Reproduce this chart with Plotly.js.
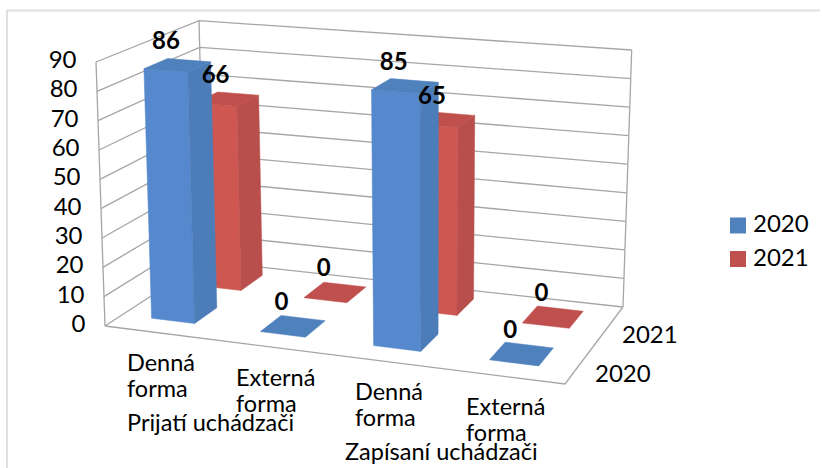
<!DOCTYPE html>
<html><head><meta charset="utf-8">
<script src="https://cdn.plot.ly/plotly-3.0.1.min.js"></script>
<style>html,body{margin:0;padding:0;background:#fff}#c{width:822px;height:468px}</style></head>
<body><div id="c"></div>
<script>
const categories = ["Denná forma","Externá forma","Denná forma","Externá forma"];
const groups = ["Prijatí uchádzači","Zapísaní uchádzači"];
const seriesNames = ["2020","2021"];
const values2020 = [86,0,85,0];
const values2021 = [66,0,65,0];
const valueTicks = [0,10,20,30,40,50,60,70,80,90];

const FONT = "Lato, Carlito, sans-serif";
const floorQ = [[105,326],[565,384],[623,307],[205,261]];
const topQ = [[96,62],[571.6,100],[631.7,50],[199,20.7]];
function homog(q){
  const [p0,p1,p2,p3]=q;
  const dx1=p1[0]-p2[0],dx2=p3[0]-p2[0],sx=p0[0]-p1[0]+p2[0]-p3[0];
  const dy1=p1[1]-p2[1],dy2=p3[1]-p2[1],sy=p0[1]-p1[1]+p2[1]-p3[1];
  const det=dx1*dy2-dx2*dy1;
  const g=(sx*dy2-dx2*sy)/det,h=(dx1*sy-sx*dy1)/det;
  const a=p1[0]-p0[0]+g*p1[0],b=p3[0]-p0[0]+h*p3[0],c=p0[0];
  const d=p1[1]-p0[1]+g*p1[1],e=p3[1]-p0[1]+h*p3[1],f=p0[1];
  return (u,v)=>{const w=g*u+h*v+1;return [(a*u+b*v+c)/w,(d*u+e*v+f)/w];};
}
const hF=homog(floorQ),hT=homog(topQ);
function P(u,v,val){const a=hF(u,v),b=hT(u,v),t=val/90;return [a[0]+(b[0]-a[0])*t,a[1]+(b[1]-a[1])*t];}

const traces=[];
function line(pts,w,col){traces.push({type:'scatter',mode:'lines',x:pts.map(p=>p[0]),y:pts.map(p=>p[1]),line:{color:col||'#a6a6a6',width:w||1.3},hoverinfo:'skip',showlegend:false});}
function poly(pts,col){const c=pts.concat([pts[0]]);traces.push({type:'scatter',mode:'lines',x:c.map(p=>p[0]),y:c.map(p=>p[1]),fill:'toself',fillcolor:col,line:{color:col,width:0.5},hoverinfo:'skip',showlegend:false});}
function texts(xs,ys,ts,pos,size,weight){traces.push({type:'scatter',mode:'text',x:xs,y:ys,text:ts,textposition:pos,textfont:{family:FONT,size:size,color:'#000',weight:weight||400},hoverinfo:'skip',showlegend:false});}

// walls
valueTicks.forEach(t=>{line([P(0,0,t),P(0,1,t),P(1,1,t)]);});
line([P(0,0,0),P(0,0,90)]);line([P(0,1,0),P(0,1,90)]);line([P(1,1,0),P(1,1,90)]);
line([P(0,0,0),P(1,0,0),P(1,1,0)]);

const BW=0.102, V=[[0.16,0.385],[0.645,0.885]], NUDGE=[-0.004,0,0.003,0];
const colors=[{f:'#5588cc',s:'#4d7db8',t:'#4f81bd'},{f:'#cf5752',s:'#b94f4c',t:'#c0504d'}];
const series=[values2020,values2021];
const labelX=[],labelY=[],labelT=[];
[1,0].forEach(r=>{
  series[r].forEach((val,i)=>{
    const u0=(i+0.5)/4+NUDGE[i]-BW/2,u1=u0+BW,[v0,v1]=V[r],c=colors[r];
    if(val>0){
      poly([P(u0,v0,0),P(u1,v0,0),P(u1,v0,val),P(u0,v0,val)],c.f);
      poly([P(u1,v0,0),P(u1,v1,0),P(u1,v1,val),P(u1,v0,val)],c.s);
    }
    poly([P(u0,v0,val),P(u1,v0,val),P(u1,v1,val),P(u0,v1,val)],c.t);
    const m=P((u0+u1)/2,(v0+v1)/2,val);
    labelX.push(m[0]-11.5);labelY.push(m[1]-22);labelT.push(String(val));
  });
});
// value labels on left axis
texts(valueTicks.map(t=>P(0,0,t)[0]-19.5),valueTicks.map(t=>P(0,0,t)[1]),valueTicks.map(String),'middle left',24);
// category labels, one text per line
const catLeft=[127,236,355,466], catTop=[365.5,380.5,394.5,409.5], LINE=25.5;
const cx=[],cy=[],ct=[];
categories.forEach((c,i)=>c.split(' ').forEach((w,j)=>{cx.push(catLeft[i]);cy.push(catTop[i]+j*LINE);ct.push(w);}));
texts(cx,cy,ct,'middle right',23.5);
texts([127,345],[425.5,454.5],groups,'middle right',23.5);
// depth labels
texts([622,595],[337,376],[seriesNames[1],seriesNames[0]],'middle right',24);
// data labels
texts(labelX,labelY,labelT,'middle center',24,700);
// legend: one swatch and one label per series
const legX=738, legY=[225.5,259];
seriesNames.forEach((n,i)=>traces.push({type:'scatter',mode:'markers',x:[legX],y:[legY[i]],name:n,hoverinfo:'skip',showlegend:false,marker:{symbol:'square',size:16,color:colors[i].t}}));
texts([753,753],[226,260],seriesNames,'middle right',24);

Plotly.newPlot('c',traces,{
  width:822,height:468,margin:{l:0,r:0,t:0,b:0},paper_bgcolor:'#fff',plot_bgcolor:'#fff',
  xaxis:{range:[0,822],visible:false,fixedrange:true},
  yaxis:{range:[468,0],visible:false,fixedrange:true},
  shapes:[
    {type:'line',xref:'paper',yref:'paper',x0:6/822,x1:820/822,y0:1-10.5/468,y1:1-10.5/468,line:{color:'#e0e0e0',width:2}},
    {type:'line',xref:'paper',yref:'paper',x0:7/822,x1:7/822,y0:0,y1:1-10/468,line:{color:'#e0e0e0',width:2}}
  ],
  showlegend:false
},{displayModeBar:false,staticPlot:true});
</script></body></html>
